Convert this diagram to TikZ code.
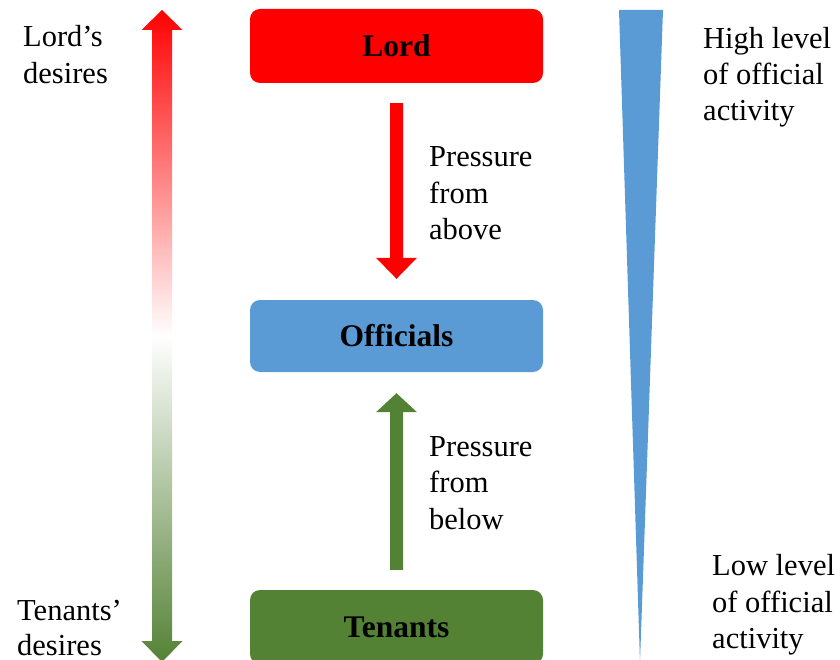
\documentclass[tikz,border=0pt]{standalone}
\usepackage{fontspec}
\setmainfont{Liberation Serif}
\usetikzlibrary{calc}
\definecolor{lordred}{HTML}{FF0000}
\definecolor{offblue}{HTML}{5B9BD5}
\definecolor{tengreen}{HTML}{548235}
\begin{document}
\begin{tikzpicture}[x=1pt,y=-1pt,
  box/.style={rectangle, rounded corners=10pt, minimum width=293pt, inner sep=0pt,
    font=\fontsize{31.5}{36}\selectfont\bfseries},
  lbl/.style={anchor=base west, inner sep=0pt, font=\fontsize{30.5}{36}\selectfont}]
\clip (0,0) rectangle (840,660);
% boxes
\node[box, fill=lordred, minimum height=74pt] (lord) at (396.5,46) {Lord};
\node[box, fill=offblue, minimum height=72pt] (off) at (396.5,336) {Officials};
\node[box, fill=tengreen, minimum height=74pt] (ten) at (396.5,627) {Tenants};
% red arrow: pressure from above
\coordinate (r1) at ($(lord.south)+(0,20)$);
\coordinate (r2) at ($(off.north)+(0,-21)$);
\fill[lordred] ($(r1)+(-6.5,0)$) -- ($(r1)+(6.5,0)$) -- ($(r2)+(6.5,-21)$) -- ($(r2)+(20.5,-21)$)
  -- (r2) -- ($(r2)+(-20.5,-21)$) -- ($(r2)+(-6.5,-21)$) -- cycle;
% green arrow: pressure from below
\coordinate (g1) at ($(ten.north)+(0,-20)$);
\coordinate (g2) at ($(off.south)+(0,21)$);
\fill[tengreen] ($(g1)+(-6.5,0)$) -- ($(g1)+(6.5,0)$) -- ($(g2)+(6.5,19)$) -- ($(g2)+(20.5,19)$)
  -- (g2) -- ($(g2)+(-20.5,19)$) -- ($(g2)+(-6.5,19)$) -- cycle;
% double arrow with gradient
\coordinate (dt) at (162,10);
\coordinate (db) at (162,662);
\shade[top color=lordred, bottom color=tengreen, middle color=white]
  (dt) -- ($(dt)+(20.5,20)$) -- ($(dt)+(10,20)$) -- ($(db)+(10,-21)$) -- ($(db)+(20.5,-21)$)
  -- (db) -- ($(db)+(-20.5,-21)$) -- ($(db)+(-10,-21)$) -- ($(dt)+(-10,20)$) -- ($(dt)+(-20.5,20)$) -- cycle;
% wedge
\coordinate (w1) at (619,10);
\coordinate (w2) at (663,10);
\coordinate (w3) at (640,662);
\fill[offblue] (w1) -- (w2) -- (w3) -- cycle;
% labels
\node[lbl] (ld1) at (23,47) {Lord’s};
\node[lbl] (ld2) at (23,83.5) {desires};
\node[lbl] (td1) at (17,620) {Tenants’};
\node[lbl] (td2) at (17,655) {desires};
\node[lbl] (pa1) at (429,167) {Pressure};
\node[lbl] (pa2) at (429,203.5) {from};
\node[lbl] (pa3) at (429,240) {above};
\node[lbl] (pb1) at (429,456) {Pressure};
\node[lbl] (pb2) at (429,492.5) {from};
\node[lbl] (pb3) at (429,529) {below};
\node[lbl] (hl1) at (703,48.5) {High level};
\node[lbl] (hl2) at (703,85) {of official};
\node[lbl] (hl3) at (703,120.5) {activity};
\node[lbl] (ll1) at (712,575.5) {Low level};
\node[lbl] (ll2) at (712,612) {of official};
\node[lbl] (ll3) at (712,648) {activity};
\end{tikzpicture}
\end{document}
